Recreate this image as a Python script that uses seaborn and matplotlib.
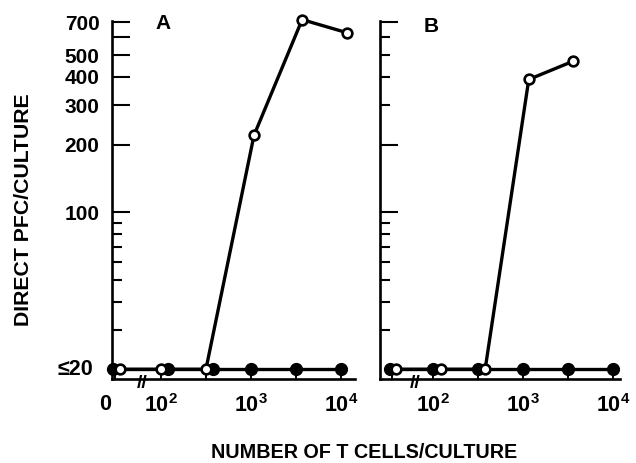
import numpy as np
import pandas as pd
import matplotlib
matplotlib.use("Agg")
import matplotlib.pyplot as plt
import matplotlib.transforms as mtransforms
import seaborn as sns

# ---------------- data ----------------
# x = number of T cells per culture (0 = no T cells), y = direct PFC/culture (20 means "<=20")
a_open_x = [0, 100, 316, 1080, 3700, 11600]
a_open_y = [20, 20, 20, 220, 720, 630]
a_filled_x = [0, 120, 380, 1000, 3160, 10000]
a_filled_y = [20, 20, 20, 20, 20, 20]

b_open_x = [0, 122, 380, 1160, 3600]
b_open_y = [20, 20, 20, 390, 470]
b_filled_x = [0, 100, 316, 1000, 3160, 10000]
b_filled_y = [20, 20, 20, 20, 20, 20]

x_tick_values = [0, 100, 316, 1000, 3162, 10000]
x_tick_labels_a = ["", "$10^{2}$", "", "$10^{3}$", "", "$10^{4}$"]
x_tick_labels_b = ["", "$10^{2}$", "", "$10^{3}$", "", "$10^{4}$"]
zero_label = "0"
y_major_a = [100, 200, 300, 400, 500, 600, 700]
y_major_labels_a = ["100", "200", "300", "400", "500", "", "700"]
y_major_b = [100, 200, 700]
y_minor_a = [30, 40, 50, 60, 70, 80, 90]
y_minor_b = [30, 40, 50, 60, 70, 80, 90, 300, 400, 500, 600]

# ---------------- style ----------------
sns.set_style("ticks")
plt.rcParams["font.family"] = ["Liberation Sans", "DejaVu Sans"]
plt.rcParams["font.weight"] = "bold"
plt.rcParams["text.color"] = "black"
plt.rcParams["axes.labelcolor"] = "black"
plt.rcParams["xtick.color"] = "black"
plt.rcParams["ytick.color"] = "black"
plt.rcParams["axes.edgecolor"] = "black"
plt.rcParams["mathtext.fontset"] = "custom"
plt.rcParams["mathtext.rm"] = "Liberation Sans:bold"
plt.rcParams["mathtext.bf"] = "Liberation Sans:bold"
plt.rcParams["mathtext.it"] = "Liberation Sans:bold"
plt.rcParams["mathtext.default"] = "regular"

W, H = 636, 463
fig = plt.figure(figsize=(W / 100, H / 100), dpi=100)

def frac_box(l, t, r, b):
    return [l / W, 1 - b / H, (r - l) / W, (b - t) / H]

axA = fig.add_axes(frac_box(112, 21, 355, 379))
axB = fig.add_axes(frac_box(380, 21, 620, 379))

ZERO_POS = {"A": 31.0, "B": 35.0}   # where the "0" sits on the broken log axis
DODGE = {"open": 1.12, "filled": 0.94}
XLIM = {"A": (28.6, 14300), "B": (25.8, 11970)}
YLIM = (18.1, 710)

def mapx(xs, panel, kind):
    return [ZERO_POS[panel] * DODGE[kind] if v == 0 else v for v in xs]

def draw_series(ax, xs, ys, panel, kind):
    df = pd.DataFrame({"x": mapx(xs, panel, kind), "y": ys})
    if kind == "open":
        sns.lineplot(data=df, x="x", y="y", ax=ax, color="black", linewidth=2.4,
                     marker="o", markersize=7, markerfacecolor="white",
                     markeredgecolor="black", markeredgewidth=1.9,
                     estimator=None, sort=False, zorder=4, clip_on=False)
    else:
        sns.lineplot(data=df, x="x", y="y", ax=ax, color="black", linewidth=2.4,
                     marker="o", markersize=8.5, markerfacecolor="black",
                     markeredgecolor="black", markeredgewidth=1.0,
                     estimator=None, sort=False, zorder=3, clip_on=False)

draw_series(axA, a_filled_x, a_filled_y, "A", "filled")
draw_series(axA, a_open_x, a_open_y, "A", "open")
draw_series(axB, b_filled_x, b_filled_y, "B", "filled")
draw_series(axB, b_open_x, b_open_y, "B", "open")

for panel, ax, xlabels, ymaj, yminor in [
    ("A", axA, x_tick_labels_a, y_major_a, y_minor_a),
    ("B", axB, x_tick_labels_b, y_major_b, y_minor_b),
]:
    ax.set_xscale("log")
    ax.set_yscale("log")
    ax.set_xlim(*XLIM[panel])
    ax.set_ylim(*YLIM)
    for s in ["top", "right"]:
        ax.spines[s].set_visible(False)
    for s in ["left", "bottom"]:
        ax.spines[s].set_linewidth(1.9)
        ax.spines[s].set_color("black")
    xt = [ZERO_POS[panel] if v == 0 else v for v in x_tick_values]
    ax.set_xticks(xt)
    ax.set_xticklabels(xlabels)
    ax.xaxis.set_minor_locator(matplotlib.ticker.NullLocator())
    ax.tick_params(axis="x", which="major", direction="in", length=4, width=1.4,
                   pad=11, labelsize=15.5, color="black", labelcolor="black")
    ax.set_yticks(ymaj)
    if panel == "A":
        ax.set_yticklabels(y_major_labels_a)
    else:
        ax.set_yticklabels([""] * len(ymaj))
    ax.set_yticks(yminor, minor=True)
    ax.yaxis.set_minor_formatter(matplotlib.ticker.NullFormatter())
    ax.tick_params(axis="y", which="major", direction="in", length=13, width=1.5,
                   pad=9, labelsize=15, color="black", labelcolor="black")
    ax.tick_params(axis="y", which="minor", direction="in", length=7, width=1.5,
                   color="black")
    ax.set_xlabel("")
    ax.set_ylabel("")
    ax.patch.set_alpha(0)

# "0" label on panel A (sits a little left of its tick in the original)
axA.text(-0.03, -0.07, zero_label, transform=axA.transAxes, ha="center", va="center",
         fontsize=15.5, fontweight="bold")

# "<=20" label on panel A
trA = mtransforms.blended_transform_factory(axA.transAxes, axA.transData)
axA.text(-0.078, 20, "\u226420", transform=trA, ha="right", va="center",
         fontsize=15.5, fontweight="bold")

# axis break marks
axA.text(0.123, -0.012, "//", transform=axA.transAxes, ha="center", va="center",
         fontsize=14, fontweight="bold", clip_on=False)
axB.text(0.146, -0.012, "//", transform=axB.transAxes, ha="center", va="center",
         fontsize=14, fontweight="bold", clip_on=False)

# panel letters
axA.text(0.21, 0.994, "A", transform=axA.transAxes, ha="center", va="center",
         fontsize=15, fontweight="bold")
axB.text(0.2125, 0.986, "B", transform=axB.transAxes, ha="center", va="center",
         fontsize=15, fontweight="bold")

# axis titles
fig.text(364 / W, 1 - 453 / H, "NUMBER OF T CELLS/CULTURE", ha="center", va="center",
         fontsize=14.2, fontweight="bold")
fig.text(24 / W, 1 - 210 / H, "DIRECT PFC/CULTURE", ha="center", va="center",
         rotation=90, fontsize=15.3, fontweight="bold")

fig.savefig("out.png", dpi=100, facecolor="white")
